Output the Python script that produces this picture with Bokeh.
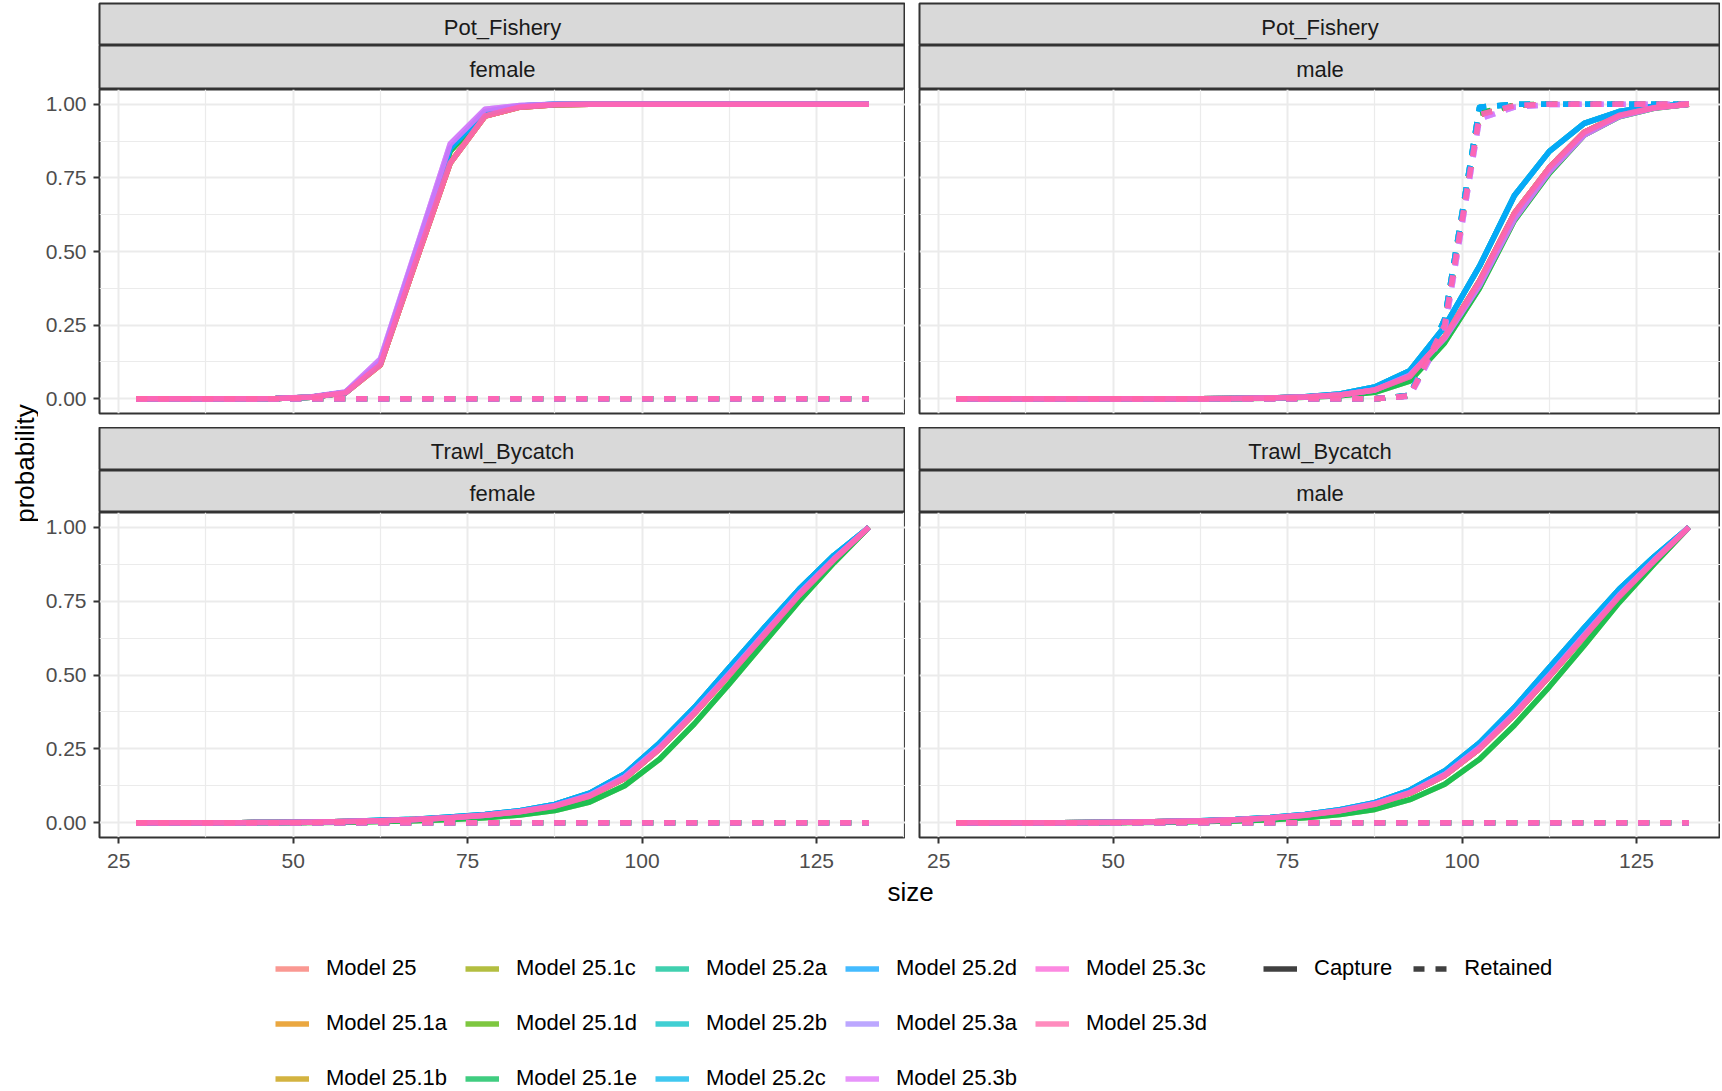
import math
from bokeh.plotting import figure
from bokeh.models import (Range1d, FixedTicker, NumeralTickFormatter, Legend,
                          LegendItem, ColumnDataSource)
from bokeh.layouts import row, column
from bokeh.embed import file_html
from bokeh.resources import INLINE
from bokeh.core.properties import value

# ---------------- data ----------------
sizes = [27.5, 32.5, 37.5, 42.5, 47.5, 52.5, 57.5, 62.5, 67.5, 72.5, 77.5,
         82.5, 87.5, 92.5, 97.5, 102.5, 107.5, 112.5, 117.5, 122.5, 127.5, 132.5]

models = ["Model 25", "Model 25.1a", "Model 25.1b", "Model 25.1c", "Model 25.1d",
          "Model 25.1e", "Model 25.2a", "Model 25.2b", "Model 25.2c", "Model 25.2d",
          "Model 25.3a", "Model 25.3b", "Model 25.3c", "Model 25.3d"]
types = ["Capture", "Retained"]
fleets = ["Pot_Fishery", "Trawl_Bycatch"]
sexes = ["female", "male"]

# which estimated curve each model follows (curves are nearly identical)
model_curve = ["A", "A", "A", "A", "B", "B", "C", "C", "C", "C", "D", "D", "A", "A"]

zeros = [0, 0, 0, 0, 0, 0, 0, 0, 0, 0, 0, 0, 0, 0, 0, 0, 0, 0, 0, 0, 0, 0]

pot_female_capture_A = [0, 0, 0, 0, 0.001, 0.005, 0.02, 0.115, 0.46, 0.80, 0.96, 0.99, 0.998, 1, 1, 1, 1, 1, 1, 1, 1, 1]
pot_female_capture_B = [0, 0, 0, 0, 0.001, 0.005, 0.021, 0.12, 0.48, 0.84, 0.97, 0.992, 0.999, 1, 1, 1, 1, 1, 1, 1, 1, 1]
pot_female_capture_C = [0, 0, 0, 0, 0.001, 0.005, 0.021, 0.125, 0.49, 0.85, 0.975, 0.994, 1, 1, 1, 1, 1, 1, 1, 1, 1, 1]
pot_female_capture_D = [0, 0, 0, 0, 0.001, 0.006, 0.023, 0.135, 0.50, 0.865, 0.983, 0.996, 1, 1, 1, 1, 1, 1, 1, 1, 1, 1]

pot_male_capture_A = [0, 0, 0, 0, 0, 0, 0, 0, 0.001, 0.003, 0.006, 0.013, 0.03, 0.075, 0.21, 0.40, 0.63, 0.785, 0.905, 0.962, 0.988, 1.0]
pot_male_capture_B = [0, 0, 0, 0, 0, 0, 0, 0, 0.001, 0.002, 0.005, 0.01, 0.022, 0.06, 0.19, 0.375, 0.605, 0.765, 0.895, 0.957, 0.986, 1.0]
pot_male_capture_C = [0, 0, 0, 0, 0, 0, 0, 0, 0.001, 0.003, 0.007, 0.016, 0.04, 0.095, 0.245, 0.45, 0.69, 0.84, 0.935, 0.975, 0.993, 1.0]
pot_male_capture_D = [0, 0, 0, 0, 0, 0, 0, 0, 0.001, 0.003, 0.006, 0.013, 0.03, 0.08, 0.205, 0.385, 0.61, 0.77, 0.895, 0.958, 0.987, 1.0]

pot_male_retained_A = [0, 0, 0, 0, 0, 0, 0, 0, 0, 0, 0, 0, 0, 0.01, 0.25, 0.965, 0.995, 1, 1, 1, 1, 1]
pot_male_retained_B = [0, 0, 0, 0, 0, 0, 0, 0, 0, 0, 0, 0, 0, 0.01, 0.25, 0.97, 0.997, 1, 1, 1, 1, 1]
pot_male_retained_C = [0, 0, 0, 0, 0, 0, 0, 0, 0, 0, 0, 0, 0, 0.012, 0.27, 0.99, 1, 1, 1, 1, 1, 1]
pot_male_retained_D = [0, 0, 0, 0, 0, 0, 0, 0, 0, 0, 0, 0, 0, 0.008, 0.23, 0.95, 0.99, 0.999, 1, 1, 1, 1]

trawl_female_capture_A = [0, 0, 0, 0, 0.001, 0.002, 0.004, 0.007, 0.011, 0.017, 0.025, 0.037, 0.056, 0.09, 0.15, 0.25, 0.37, 0.50, 0.635, 0.77, 0.89, 1.0]
trawl_female_capture_B = [0, 0, 0, 0, 0.001, 0.001, 0.002, 0.004, 0.007, 0.011, 0.017, 0.026, 0.041, 0.07, 0.125, 0.215, 0.335, 0.47, 0.61, 0.75, 0.88, 1.0]
trawl_female_capture_C = [0, 0, 0, 0, 0.001, 0.002, 0.004, 0.008, 0.012, 0.019, 0.028, 0.041, 0.062, 0.10, 0.165, 0.27, 0.39, 0.525, 0.66, 0.79, 0.905, 1.0]
trawl_female_capture_D = [0, 0, 0, 0, 0.001, 0.002, 0.004, 0.007, 0.011, 0.017, 0.025, 0.038, 0.058, 0.093, 0.155, 0.255, 0.375, 0.505, 0.64, 0.775, 0.893, 1.0]

trawl_male_capture_A = [0, 0, 0, 0, 0.001, 0.002, 0.004, 0.006, 0.01, 0.016, 0.025, 0.04, 0.062, 0.10, 0.16, 0.25, 0.365, 0.495, 0.63, 0.765, 0.885, 1.0]
trawl_male_capture_B = [0, 0, 0, 0, 0.001, 0.001, 0.002, 0.004, 0.006, 0.01, 0.017, 0.028, 0.045, 0.078, 0.13, 0.215, 0.33, 0.46, 0.60, 0.745, 0.875, 1.0]
trawl_male_capture_C = [0, 0, 0, 0, 0.001, 0.002, 0.004, 0.007, 0.011, 0.018, 0.028, 0.044, 0.068, 0.11, 0.175, 0.27, 0.39, 0.525, 0.66, 0.79, 0.9, 1.0]
trawl_male_capture_D = [0, 0, 0, 0, 0.001, 0.002, 0.004, 0.006, 0.01, 0.016, 0.026, 0.041, 0.064, 0.102, 0.163, 0.255, 0.37, 0.5, 0.635, 0.77, 0.888, 1.0]

x_ticks = [25, 50, 75, 100, 125]
x_minor = [37.5, 62.5, 87.5, 112.5, 137.5]
y_ticks = [0, 0.25, 0.5, 0.75, 1.0]
y_minor = [0.125, 0.375, 0.625, 0.875]

curves = {
    ("Pot_Fishery", "female", "Capture"): {"A": pot_female_capture_A, "B": pot_female_capture_B, "C": pot_female_capture_C, "D": pot_female_capture_D},
    ("Pot_Fishery", "female", "Retained"): {"A": zeros, "B": zeros, "C": zeros, "D": zeros},
    ("Pot_Fishery", "male", "Capture"): {"A": pot_male_capture_A, "B": pot_male_capture_B, "C": pot_male_capture_C, "D": pot_male_capture_D},
    ("Pot_Fishery", "male", "Retained"): {"A": pot_male_retained_A, "B": pot_male_retained_B, "C": pot_male_retained_C, "D": pot_male_retained_D},
    ("Trawl_Bycatch", "female", "Capture"): {"A": trawl_female_capture_A, "B": trawl_female_capture_B, "C": trawl_female_capture_C, "D": trawl_female_capture_D},
    ("Trawl_Bycatch", "female", "Retained"): {"A": zeros, "B": zeros, "C": zeros, "D": zeros},
    ("Trawl_Bycatch", "male", "Capture"): {"A": trawl_male_capture_A, "B": trawl_male_capture_B, "C": trawl_male_capture_C, "D": trawl_male_capture_D},
    ("Trawl_Bycatch", "male", "Retained"): {"A": zeros, "B": zeros, "C": zeros, "D": zeros},
}

# ---------------- style ----------------
FONT = "Liberation Sans"
BORDER = "#333333"
STRIP_FILL = "#D9D9D9"
GRID = "#EBEBEB"
ALPHA = 0.75
LW = 5.5
DASH = "11 11"


def hcl_hex(h, c=100.0, l=65.0):
    hr = math.radians(h)
    U, V = c * math.cos(hr), c * math.sin(hr)
    Xn, Yn, Zn = 95.047, 100.0, 108.883
    Y = Yn * ((l + 16) / 116) ** 3
    d = Xn + 15 * Yn + 3 * Zn
    un, vn = 4 * Xn / d, 9 * Yn / d
    u = U / (13 * l) + un
    v = V / (13 * l) + vn
    X = Y * 9 * u / (4 * v)
    Z = Y * (12 - 3 * u - 20 * v) / (4 * v)
    X, Y, Z = X / 100, Y / 100, Z / 100
    r = 3.240479 * X - 1.537150 * Y - 0.498535 * Z
    g = -0.969256 * X + 1.875992 * Y + 0.041556 * Z
    b = 0.055648 * X - 0.204043 * Y + 1.057311 * Z

    def gam(t):
        t = 12.92 * t if t <= 0.0031308 else 1.055 * t ** (1 / 2.4) - 0.055
        return max(0.0, min(1.0, t))
    return "#%02X%02X%02X" % tuple(int(round(255 * gam(t))) for t in (r, g, b))


colors = [hcl_hex(15 + 360.0 * i / len(models)) for i in range(len(models))]

# ---------------- layout sizes ----------------
TOTAL_W = 1720
TOTAL_H = 1089
YLAB_W = 38
LEFT_B = 61
GAP = 14
FW_L = 806
FW_R = TOTAL_W - YLAB_W - LEFT_B - FW_L - GAP
TOP_PAD = 3
STRIP_H = [42, 44, 43, 42]
PH_TOP = 324
PH_BOT = 325
AXIS_H = 40
GRID_H = TOP_PAD + sum(STRIP_H) + PH_TOP + GAP + PH_BOT + AXIS_H
BOTTOM_H = TOTAL_H - GRID_H


def base_fig(width, height, **kw):
    return figure(width=width, height=height, toolbar_location=None,
                  output_backend="svg", min_border=0, **kw)


def make_strip(label, left, h, ty, top_pad=0):
    ml = LEFT_B if left else GAP
    fw = FW_L if left else FW_R
    p = base_fig(ml + fw, h + top_pad, min_border_left=ml, min_border_right=0,
                 min_border_top=top_pad, min_border_bottom=0,
                 x_range=Range1d(0, 1), y_range=Range1d(0, 1),
                 x_axis_location=None, y_axis_location=None)
    p.grid.visible = False
    p.background_fill_color = STRIP_FILL
    p.outline_line_color = BORDER
    p.outline_line_width = 2
    p.text(x=[0.5], y=[ty], text=[label], text_align="center",
           text_baseline="middle", text_font=value(FONT),
           text_font_size="22px", text_color="#1A1A1A")
    return p


def make_panel(fleet, sex, left, bottom):
    ml = LEFT_B if left else GAP
    fw = FW_L if left else FW_R
    fh = PH_BOT if bottom else PH_TOP
    mb = AXIS_H if bottom else GAP
    x_end = 22.25 + fw * (115.5 / FW_L)
    p = base_fig(ml + fw, fh + mb, min_border_left=ml, min_border_right=0,
                 min_border_top=0, min_border_bottom=mb,
                 x_range=Range1d(22.25, x_end), y_range=Range1d(-0.05, 1.05),
                 x_axis_location="below" if bottom else None,
                 y_axis_location="left" if left else None)
    p.background_fill_color = "white"
    p.outline_line_color = BORDER
    p.outline_line_width = 2
    xt = FixedTicker(ticks=x_ticks, minor_ticks=x_minor)
    yt = FixedTicker(ticks=y_ticks, minor_ticks=y_minor)
    p.xgrid.ticker = xt
    p.ygrid.ticker = yt
    for gr in (p.xgrid[0], p.ygrid[0]):
        gr.grid_line_color = GRID
        gr.grid_line_width = 2
        gr.minor_grid_line_color = GRID
        gr.minor_grid_line_width = 1.2
    axes = []
    if bottom:
        p.xaxis.ticker = xt
        p.xaxis.major_label_standoff = 10
        axes.append(p.xaxis[0])
    if left:
        p.yaxis.ticker = yt
        p.yaxis.formatter = NumeralTickFormatter(format="0.00")
        p.yaxis.major_label_standoff = 7
        axes.append(p.yaxis[0])
    for ax in axes:
        ax.axis_line_color = None
        ax.major_tick_line_color = BORDER
        ax.major_tick_line_width = 2
        ax.major_tick_out = 6
        ax.major_tick_in = 0
        ax.minor_tick_line_color = None
        ax.major_label_text_font = FONT
        ax.major_label_text_font_size = "21px"
        ax.major_label_text_color = "#4D4D4D"

    for mi, m in enumerate(models):
        grp = model_curve[mi]
        for t in types:
            ys = curves[(fleet, sex, t)][grp]
            src = ColumnDataSource(dict(size=sizes, probability=ys))
            p.line("size", "probability", source=src, line_color=colors[mi],
                   line_alpha=ALPHA, line_width=LW, line_join="round",
                   line_dash="solid" if t == "Capture" else DASH)
    return p


cols = []
for ci, sex in enumerate(sexes):
    left = ci == 0
    children = [
        make_strip(fleets[0], left, STRIP_H[0], 0.44, top_pad=TOP_PAD),
        make_strip(sex, left, STRIP_H[1], 0.45),
        make_panel(fleets[0], sex, left, False),
        make_strip(fleets[1], left, STRIP_H[2], 0.45),
        make_strip(sex, left, STRIP_H[3], 0.45),
        make_panel(fleets[1], sex, left, True),
    ]
    cols.append(column(*children))

# y-axis title
ylab = base_fig(YLAB_W, GRID_H, x_range=Range1d(0, YLAB_W), y_range=Range1d(0, GRID_H),
                x_axis_location=None, y_axis_location=None)
ylab.grid.visible = False
ylab.outline_line_color = None
ylab.text(x=[24], y=[GRID_H - 463], text=["probability"], angle=math.pi / 2,
          text_align="center", text_baseline="middle", text_font=value(FONT),
          text_font_size="26px", text_color="black")

# bottom area: x-axis title and legends
bf = base_fig(TOTAL_W, BOTTOM_H, x_range=Range1d(0, TOTAL_W), y_range=Range1d(0, BOTTOM_H),
              x_axis_location=None, y_axis_location=None)
bf.grid.visible = False
bf.outline_line_color = None
bf.text(x=[910], y=[BOTTOM_H - 14], text=["size"], text_align="center",
        text_baseline="middle", text_font=value(FONT), text_font_size="26px",
        text_color="black")

nan = float("nan")
color_items = []
for mi, m in enumerate(models):
    r = bf.line(x=[nan], y=[nan], line_color=colors[mi], line_alpha=ALPHA, line_width=LW)
    color_items.append(LegendItem(label=m, renderers=[r]))

ITEM_H = 27
ROW_SP = 28
ROW_TOP = 77.5  # top of first legend row box, from the top of the bottom area
leg_kw = dict(orientation="vertical", spacing=ROW_SP, glyph_width=34, glyph_height=ITEM_H,
              label_height=ITEM_H, label_standoff=17, padding=0, margin=0,
              border_line_color=None, background_fill_alpha=0,
              label_text_font=FONT, label_text_font_size="22px",
              label_text_color="black")
for k in range(5):
    items = color_items[3 * k: 3 * k + 3]
    hgt = len(items) * ITEM_H + (len(items) - 1) * ROW_SP
    leg = Legend(items=items, location=(275 + 190 * k, BOTTOM_H - ROW_TOP - hgt), **leg_kw)
    bf.add_layout(leg)

lt_items = []
for t in types:
    r = bf.line(x=[nan], y=[nan], line_color="black", line_alpha=ALPHA, line_width=LW,
                line_dash="solid" if t == "Capture" else DASH)
    lt_items.append(LegendItem(label=t, renderers=[r]))
lt_kw = dict(leg_kw)
lt_kw["orientation"] = "horizontal"
lt_kw["spacing"] = 21
lt_leg = Legend(items=lt_items, location=(1263, BOTTOM_H - ROW_TOP - ITEM_H), **lt_kw)
bf.add_layout(lt_leg)

root = column(row(ylab, cols[0], cols[1]), bf)

with open("out.html", "w") as f:
    f.write(file_html(root, INLINE))
